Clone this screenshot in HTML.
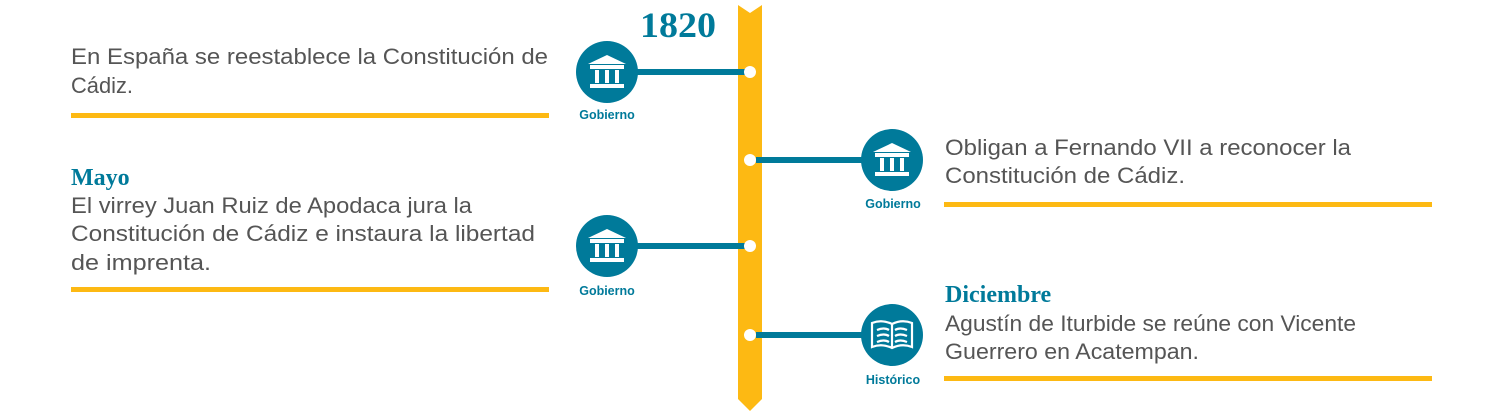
<!DOCTYPE html>
<html><head><meta charset="utf-8"><style>
html,body{margin:0;padding:0;background:#fff;width:1500px;height:413px;overflow:hidden}
svg text{font-family:"Liberation Sans",sans-serif}
.t{font-size:22.5px;fill:#555}
.h{font-family:"Liberation Serif",serif !important;font-weight:bold;font-size:24px;fill:#007a9a}
.l{font-size:12.5px;font-weight:bold;fill:#007a9a}
</style></head><body>
<svg width="1500" height="413" viewBox="0 0 1500 413" xmlns="http://www.w3.org/2000/svg">
<defs>
<g id="gov"><polygon points="-19,-8 0,-17 19,-8" fill="#fff"/><rect x="-17" y="-7" width="34" height="4" fill="#fff"/><rect x="-12" y="-2" width="4" height="13" fill="#fff"/><rect x="-2" y="-2" width="4" height="13" fill="#fff"/><rect x="8" y="-2" width="4" height="13" fill="#fff"/><rect x="-17" y="12" width="34" height="4" fill="#fff"/></g>
<g id="book" fill="none" stroke="#fff" stroke-width="2.2"><path d="M-20,-12 Q-10,-16 0,-11 Q10,-16 20,-12 L20,12 Q10,8 0,13 Q-10,8 -20,12 Z"/><path d="M0,-11 L0,13"/><path d="M-15,-5 Q-8,-8 -3,-5 M-15,1 Q-8,-2 -3,1 M-15,7 Q-8,4 -3,7 M3,-5 Q8,-8 15,-5 M3,1 Q8,-2 15,1 M3,7 Q8,4 15,7"/></g>
</defs>
<polygon points="738,5 750,13 762,5 762,399 750,411 738,399" fill="#fdb913"/>
<text x="640" y="37" class="h" style="font-size:36px" textLength="76" lengthAdjust="spacingAndGlyphs">1820</text>
<g fill="#007a9a">
<rect x="636" y="69" width="109" height="6"/>
<rect x="756" y="157" width="108" height="6"/>
<rect x="636" y="243" width="109" height="6"/>
<rect x="756" y="332" width="108" height="6"/>
<circle cx="607" cy="72" r="31"/><circle cx="892" cy="160" r="31"/>
<circle cx="607" cy="246" r="31"/><circle cx="892" cy="335" r="31"/>
</g>
<g fill="#fff"><circle cx="750" cy="72" r="6"/><circle cx="750" cy="160" r="6"/><circle cx="750" cy="246" r="6"/><circle cx="750" cy="335" r="6"/></g>
<use href="#gov" x="607" y="72"/><use href="#gov" x="892" y="160"/><use href="#gov" x="607" y="246"/><use href="#book" x="892" y="335"/>
<text x="607" y="119" text-anchor="middle" class="l">Gobierno</text>
<text x="893" y="208" text-anchor="middle" class="l">Gobierno</text>
<text x="607" y="295" text-anchor="middle" class="l">Gobierno</text>
<text x="893" y="384" text-anchor="middle" class="l">Histórico</text>
<g fill="#fdb913">
<rect x="71" y="113" width="478" height="5"/><rect x="71" y="287" width="478" height="5"/>
<rect x="944" y="202" width="488" height="5"/><rect x="944" y="376" width="488" height="5"/>
</g>
<g lengthAdjust="spacingAndGlyphs">
<text class="t" x="71" y="64" textLength="477" lengthAdjust="spacingAndGlyphs">En España se reestablece la Constitución de</text>
<text class="t" x="71" y="93" textLength="62" lengthAdjust="spacingAndGlyphs">Cádiz.</text>
<text class="h" x="71" y="185">Mayo</text>
<text class="t" x="71" y="213" textLength="401" lengthAdjust="spacingAndGlyphs">El virrey Juan Ruiz de Apodaca jura la</text>
<text class="t" x="71" y="241" textLength="464" lengthAdjust="spacingAndGlyphs">Constitución de Cádiz e instaura la libertad</text>
<text class="t" x="71" y="270" textLength="140" lengthAdjust="spacingAndGlyphs">de imprenta.</text>
<text class="t" x="945" y="155" textLength="406" lengthAdjust="spacingAndGlyphs">Obligan a Fernando VII a reconocer la</text>
<text class="t" x="945" y="183" textLength="240" lengthAdjust="spacingAndGlyphs">Constitución de Cádiz.</text>
<text class="h" x="945" y="302">Diciembre</text>
<text class="t" x="945" y="331" textLength="411" lengthAdjust="spacingAndGlyphs">Agustín de Iturbide se reúne con Vicente</text>
<text class="t" x="945" y="359" textLength="254" lengthAdjust="spacingAndGlyphs">Guerrero en Acatempan.</text>
</g>
</svg>
</body></html>
